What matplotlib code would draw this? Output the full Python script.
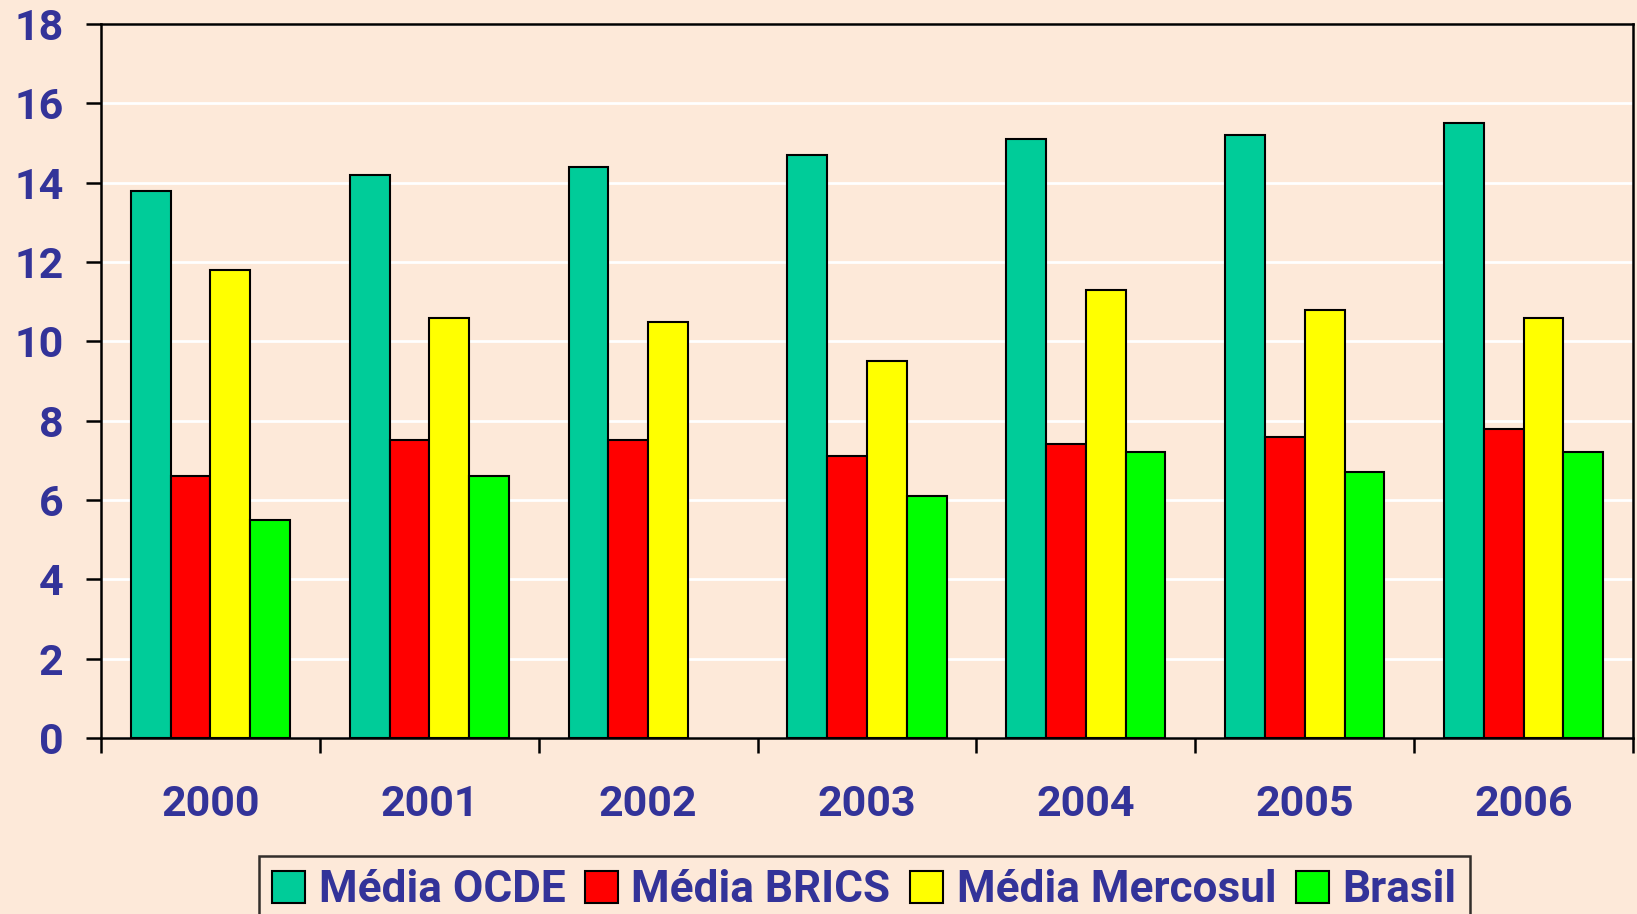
import numpy as np
import matplotlib.pyplot as plt
from matplotlib.ticker import MultipleLocator, FixedLocator

years = ["2000", "2001", "2002", "2003", "2004", "2005", "2006"]
ocde = [13.8, 14.2, 14.4, 14.7, 15.1, 15.2, 15.5]
brics = [6.6, 7.5, 7.5, 7.1, 7.4, 7.6, 7.8]
mercosul = [11.8, 10.6, 10.5, 9.5, 11.3, 10.8, 10.6]
brasil = [5.5, 6.6, np.nan, 6.1, 7.2, 6.7, 7.2]  # 2002 sem dado

series = [
    ("Média OCDE", ocde, "#00CC99"),
    ("Média BRICS", brics, "#FF0000"),
    ("Média Mercosul", mercosul, "#FFFF00"),
    ("Brasil", brasil, "#00FF00"),
]

bg = "#FDE9D9"
txt = "#333399"
font = ["Roboto", "Open Sans", "DejaVu Sans"]
fsize = 31

fig = plt.figure(figsize=(16.37, 9.14), dpi=100, facecolor=bg)
ax = fig.add_axes([0.0617, 0.1926, 0.9359, 0.7811], facecolor=bg)

x = np.arange(len(years))
w = 1 / 5.5  # gap width 150%
for i, (name, vals, color) in enumerate(series):
    ax.bar(x + (i - 1.5) * w, vals, w, color=color, edgecolor="black",
           linewidth=1.5, label=name, zorder=3)

ax.set_xlim(-0.5, len(years) - 0.5)
ax.set_ylim(0, 18)
ax.yaxis.set_major_locator(MultipleLocator(2))
ax.grid(axis="y", color="white", linewidth=2, zorder=0)

for s in ax.spines.values():
    s.set_color("black")
    s.set_linewidth(1.8)

ax.set_xticks(x)
ax.set_xticklabels(years)
ax.xaxis.set_minor_locator(FixedLocator(np.arange(-0.5, len(years), 1)))
ax.tick_params(axis="x", which="major", length=0, pad=33)
ax.tick_params(axis="x", which="minor", length=11, width=1.8, direction="out")
ax.tick_params(axis="y", length=11, width=1.8, direction="out", pad=16)

for lab in ax.get_xticklabels() + ax.get_yticklabels():
    lab.set_fontfamily(font)
    lab.set_fontweight("bold")
    lab.set_fontsize(fsize)
    lab.set_color(txt)

leg = fig.legend(loc="upper center", bbox_to_anchor=(0.528, 0.0635), ncol=4,
                 frameon=True, fancybox=False, facecolor=bg, edgecolor="black",
                 handlelength=0.75, handleheight=0.75, handletextpad=0.3,
                 columnspacing=0.45, borderpad=0.3, borderaxespad=0,
                 prop={"family": font, "weight": "bold", "size": 31.8})
leg.get_frame().set_linewidth(1.8)
for t in leg.get_texts():
    t.set_color(txt)

fig.savefig("out.png", dpi=100, facecolor=bg)
